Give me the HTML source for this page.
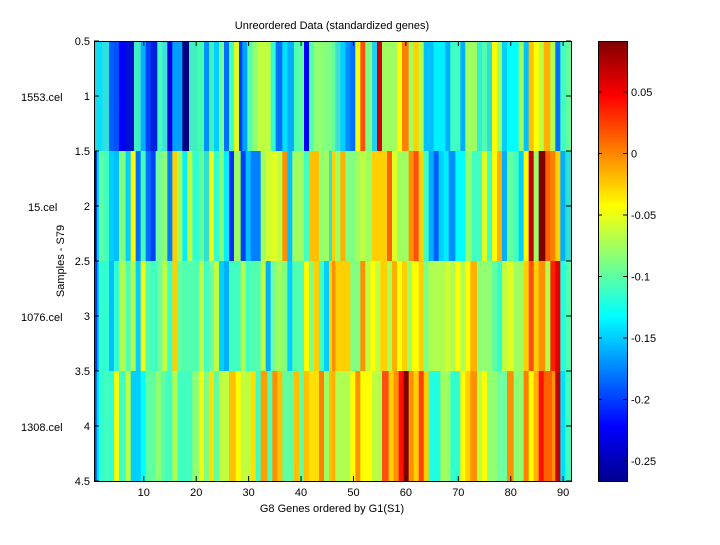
<!DOCTYPE html>
<html><head><meta charset="utf-8"><style>
body{margin:0;background:#fff;}
svg text{font-family:"Liberation Sans",sans-serif;font-size:11px;fill:#000;}
</style></head><body>
<svg id="s" width="720" height="540" xmlns="http://www.w3.org/2000/svg">
<defs><linearGradient id="jet" x1="0" y1="1" x2="0" y2="0">
<stop offset="0" stop-color="#00008f"/><stop offset="0.125" stop-color="#0000ff"/>
<stop offset="0.375" stop-color="#00ffff"/><stop offset="0.625" stop-color="#ffff00"/>
<stop offset="0.875" stop-color="#ff0000"/><stop offset="1" stop-color="#800000"/></linearGradient></defs>
<rect width="720" height="540" fill="#fff"/>
<g id="hm"></g>
<rect x="598" y="41" width="29" height="440" fill="url(#jet)"/>
<g id="ax" stroke="#000" fill="none" stroke-width="1"></g>
<g id="tx"></g>
<text x="332" y="29" text-anchor="middle">Unreordered Data (standardized genes)</text>
<text x="332" y="512" text-anchor="middle">G8 Genes ordered by G1(S1)</text>
<text transform="translate(64,261) rotate(-90)" text-anchor="middle">Samples - S79</text>
<text x="21" y="101">1553.cel</text>
<text x="28" y="211">15.cel</text>
<text x="21" y="321">1076.cel</text>
<text x="21" y="431">1308.cel</text>
</svg>
<script>
var R=[
[[0,"#30d0e0"],[10,"#00e0ff"],[25,"#30e0e0"],[45,"#0060ff"],[60,"#0050ff"],[75,"#0000ff"],[95,"#0010d0"],[120,"#40f0c0"],[140,"#00b0ff"],[155,"#0040ff"],[170,"#0020e0"],[190,"#40ffc0"],[205,"#40e0e0"],[220,"#0000e0"],[235,"#00a0ff"],[265,"#000080"],[285,"#40f0c0"],[310,"#40ffb0"],[330,"#0090ff"],[345,"#40f0c0"],[360,"#00d0ff"],[375,"#70ffa0"],[390,"#0070ff"],[405,"#40ffc0"],[420,"#e0ff20"],[435,"#0040ff"],[445,"#00a0ff"],[460,"#50ffb0"],[475,"#90ff70"],[490,"#c0ff40"],[530,"#30ffd0"],[545,"#0070ff"],[565,"#00e0ff"],[580,"#00b0ff"],[600,"#50ffb0"],[615,"#60ffa0"],[630,"#0000ff"],[645,"#50ffb0"],[660,"#90ff70"],[690,"#80ff80"]],
[[0,"#60ffa0"],[10,"#40e0d0"],[25,"#00d0ff"],[40,"#0090ff"],[55,"#0070ff"],[70,"#f0ff10"],[85,"#ff5010"],[100,"#80ff80"],[120,"#20d0f0"],[135,"#d00000"],[150,"#a0ff60"],[195,"#ffff00"],[210,"#ff8000"],[230,"#a0ff60"],[245,"#ffd000"],[260,"#b0ff50"],[275,"#00c0ff"],[305,"#00f0ff"],[340,"#00b0ff"],[355,"#40ffc0"],[385,"#00b0ff"],[400,"#a0ff60"],[435,"#30f0d0"],[450,"#50ffb0"],[465,"#30e0d0"],[480,"#ffff00"],[495,"#a0ff60"],[510,"#00d0ff"],[525,"#00ffff"],[560,"#a0ff60"],[575,"#00c0ff"],[590,"#ffc000"],[605,"#ffff00"],[620,"#c0ff40"],[635,"#ffb000"],[655,"#b0ff50"],[670,"#0070ff"],[685,"#40ffc0"],[700,"#60ffa0"]],
[[0,"#0000d0"],[8,"#00d0ff"],[15,"#60ffa0"],[30,"#40ffc0"],[45,"#00d0ff"],[60,"#00c0ff"],[75,"#80ff80"],[95,"#00d0ff"],[110,"#ffff00"],[125,"#0070ff"],[140,"#40ffc0"],[155,"#0070ff"],[170,"#0040ff"],[185,"#70ffa0"],[205,"#90ff70"],[220,"#0080ff"],[235,"#ffd000"],[250,"#a0ff60"],[265,"#00f0ff"],[280,"#c0ff40"],[295,"#30ffd0"],[315,"#60ffa0"],[330,"#30e0d0"],[345,"#f0ff10"],[360,"#30ffd0"],[375,"#80ff80"],[390,"#00f0ff"],[405,"#0030ff"],[420,"#a0ff60"],[440,"#0040ff"],[455,"#00c0ff"],[470,"#0080ff"],[500,"#a0ff60"],[515,"#d0ff30"],[530,"#e0ff20"],[550,"#c0ff40"],[565,"#ff9000"],[580,"#00c0ff"],[595,"#a0ff60"],[630,"#40ffc0"],[645,"#ffc000"],[675,"#90ff70"],[690,"#a0ff60"],[705,"#30e0d0"]],
[[0,"#ffd000"],[10,"#a0ff60"],[25,"#ffb000"],[40,"#80ff80"],[70,"#a0ff60"],[85,"#c0ff40"],[100,"#a0ff60"],[120,"#ffd000"],[165,"#ff6000"],[180,"#e0ff20"],[195,"#a0ff60"],[230,"#ff9000"],[245,"#ff5010"],[260,"#ffd000"],[275,"#40ffc0"],[290,"#00b0ff"],[305,"#0060ff"],[320,"#00d0ff"],[335,"#00f0ff"],[350,"#0090ff"],[370,"#00ffff"],[400,"#90ff70"],[420,"#40ffc0"],[450,"#e0ff20"],[465,"#40ffc0"],[480,"#ffff00"],[495,"#ffb000"],[510,"#00b0ff"],[525,"#60ffa0"],[545,"#40ffc0"],[560,"#00d0ff"],[575,"#ffff00"],[590,"#c00000"],[605,"#a0ff60"],[620,"#800000"],[640,"#ff6000"],[655,"#ff8000"],[670,"#ffd000"],[685,"#00b0ff"],[700,"#30e0d0"]],
[[0,"#0040ff"],[10,"#00d0ff"],[15,"#30ffd0"],[45,"#00c0ff"],[60,"#30ffd0"],[75,"#b0ff50"],[95,"#50ffb0"],[110,"#b0ff50"],[125,"#00d0ff"],[140,"#f0ff10"],[155,"#50ffb0"],[170,"#40ffc0"],[190,"#70ffa0"],[205,"#c0ff40"],[220,"#40ffc0"],[235,"#ffd000"],[250,"#60ffa0"],[265,"#50ffb0"],[315,"#c0ff40"],[330,"#40ffc0"],[345,"#70ffa0"],[360,"#c0ff40"],[375,"#00d0ff"],[390,"#00b0ff"],[405,"#40ffc0"],[440,"#b0ff50"],[455,"#40ffc0"],[470,"#50ffb0"],[500,"#c0ff40"],[515,"#00b0ff"],[530,"#70ffa0"],[545,"#a0ff60"],[565,"#80ff80"],[580,"#00d0ff"],[595,"#50ffb0"],[630,"#ffff00"],[645,"#80ff80"],[660,"#ffd000"],[675,"#40ffc0"],[690,"#00d0ff"],[705,"#ffd000"]],
[[0,"#ff9000"],[10,"#ffd000"],[55,"#80ff80"],[85,"#ff9000"],[100,"#c0ff40"],[115,"#ffff00"],[130,"#c0ff40"],[145,"#ffd000"],[165,"#b0ff50"],[180,"#ffb000"],[195,"#ffff00"],[210,"#ffd000"],[225,"#a0ff60"],[240,"#ffff00"],[260,"#ffd000"],[275,"#80ff80"],[290,"#b0ff50"],[340,"#d0ff30"],[355,"#b0ff50"],[370,"#ffff00"],[385,"#b0ff50"],[400,"#ffff00"],[415,"#ffb000"],[435,"#90ff70"],[480,"#60ffa0"],[495,"#30ffd0"],[510,"#c0ff40"],[525,"#e0ff20"],[545,"#a0ff60"],[575,"#ffd000"],[590,"#ff5010"],[605,"#ffd000"],[620,"#ff9000"],[640,"#b0ff50"],[655,"#ff2000"],[670,"#e00000"],[685,"#20ffe0"],[700,"#50ffb0"]],
[[0,"#0050ff"],[8,"#00e0ff"],[15,"#30ffd0"],[30,"#40ffc0"],[45,"#30ffd0"],[60,"#f0ff10"],[75,"#40ffc0"],[95,"#c0ff40"],[110,"#00d0ff"],[140,"#00ffff"],[155,"#60ffa0"],[185,"#90ff70"],[200,"#60ffa0"],[215,"#40ffc0"],[235,"#b0ff50"],[250,"#40ffc0"],[295,"#90ff70"],[315,"#f0ff10"],[330,"#80ff80"],[345,"#ffe000"],[360,"#60ffa0"],[375,"#c0ff40"],[405,"#ffc000"],[425,"#ffff00"],[440,"#c0ff40"],[470,"#ffe000"],[485,"#40ffc0"],[500,"#ffa000"],[520,"#50ffb0"],[535,"#ff9000"],[550,"#ffc000"],[565,"#60ffa0"],[600,"#ffc000"],[615,"#60ffa0"],[630,"#ffc000"],[645,"#ffe000"],[675,"#ff8000"],[690,"#a0ff60"],[705,"#ffc000"]],
[[0,"#ffb000"],[10,"#b0ff50"],[55,"#ffff00"],[70,"#ff9000"],[85,"#ffff00"],[120,"#c0ff40"],[135,"#b0ff50"],[150,"#ff5010"],[170,"#ffd000"],[185,"#ff9000"],[200,"#ff1000"],[215,"#800000"],[230,"#ff9000"],[245,"#ffd000"],[260,"#ff4000"],[275,"#ffd000"],[290,"#20ffe0"],[325,"#a0ff60"],[355,"#30ffd0"],[385,"#ffff00"],[400,"#ffd000"],[415,"#ff9000"],[435,"#c0ff40"],[450,"#ffff00"],[465,"#90ff70"],[495,"#70ffa0"],[525,"#ff9000"],[545,"#90ff70"],[575,"#ff8000"],[590,"#ffff00"],[605,"#ffb000"],[620,"#ff1000"],[635,"#ff6000"],[660,"#ff9000"],[670,"#c00000"],[685,"#00e0ff"],[700,"#40ffc0"]]
];
var NS="http://www.w3.org/2000/svg",hm=document.getElementById("hm"),h="";
for(var i=0;i<8;i++){var row=Math.floor(i/2),off=i%2?332:94,seg=R[i],end=i%2?571:334;
for(var j=0;j<seg.length;j++){var x0=off+seg[j][0]/3,x1=j+1<seg.length?off+seg[j+1][0]/3:end;
h+='<rect x="'+x0.toFixed(2)+'" y="'+(41+row*110)+'" width="'+(x1-x0+0.4).toFixed(2)+'" height="110" fill="'+seg[j][1]+'"/>';}}
hm.innerHTML=h;
var a="",t="";
a+='<rect x="94.5" y="41.5" width="477" height="440"/>';
for(var v=10;v<=90;v+=10){var x=94+(v-0.5)*5.242;a+='<path d="M'+x+' 481V476M'+x+' 41V46"/>';t+='<text x="'+x+'" y="496" text-anchor="middle">'+v+'</text>';}
for(var k=0;k<9;k++){var v=0.5+k*0.5,y=41+k*55;a+='<path d="M94 '+y+'H99M571 '+y+'H566"/>';t+='<text x="90" y="'+(y+4)+'" text-anchor="end">'+v+'</text>';}
a+='<rect x="598.5" y="41.5" width="29" height="440"/>';
var cv=[0.05,0,-0.05,-0.1,-0.15,-0.2,-0.25];
cv.forEach(function(v){var y=92+(0.05-v)*1230;a+='<path d="M598 '+y+'H602M627 '+y+'H623"/>';t+='<text x="631" y="'+(y+4)+'">'+(v==0?"0":v)+'</text>';});
document.getElementById("ax").innerHTML=a;document.getElementById("tx").innerHTML=t;
</script>
</body></html>
